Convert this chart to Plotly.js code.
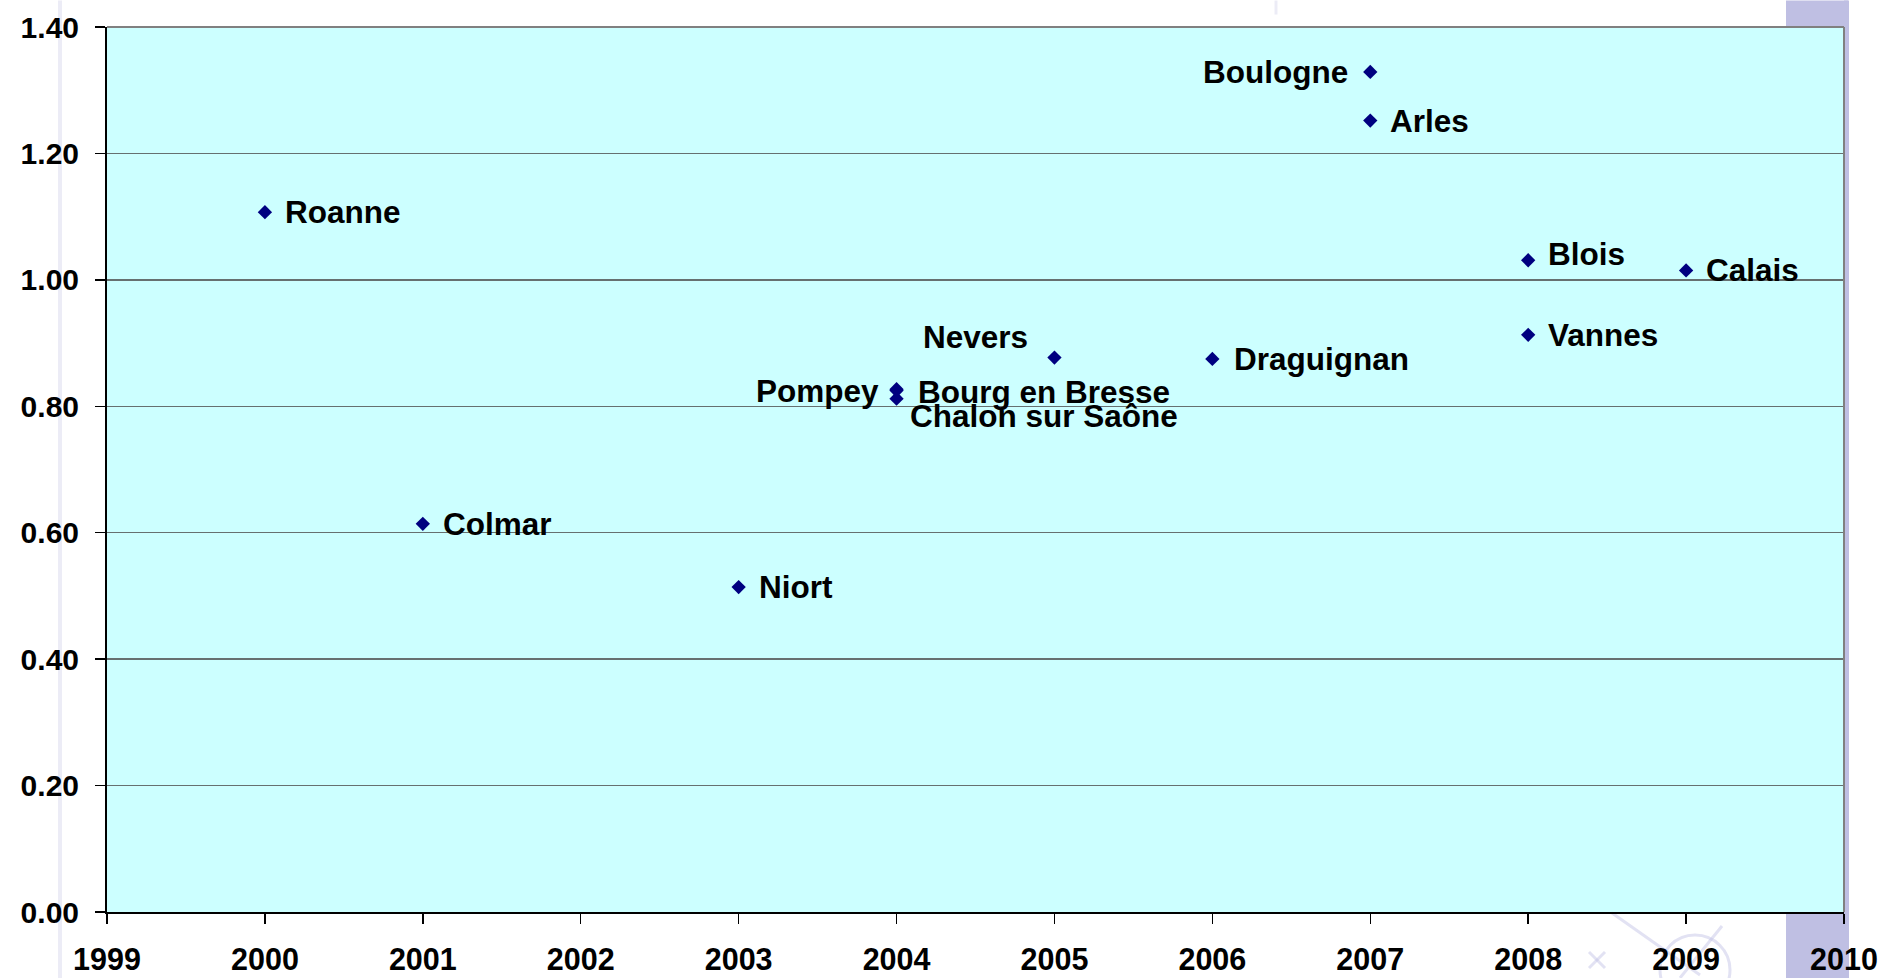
<!DOCTYPE html>
<html>
<head>
<meta charset="utf-8">
<script src="https://cdn.plot.ly/plotly-3.0.1.min.js"></script>
<style>html,body{margin:0;padding:0;background:#fff;}#chart{width:1887px;height:978px;}</style>
</head>
<body>
<div id="chart"></div>
<script>
// ---- data ----
var cities = ['Roanne','Colmar','Niort','Pompey','Bourg en Bresse','Chalon sur Saône','Nevers','Draguignan','Boulogne','Arles','Blois','Vannes','Calais'];
var years  = [2000, 2001, 2003, 2004, 2004, 2004, 2005, 2006, 2007, 2007, 2008, 2008, 2009];
var values = [1.107, 0.614, 0.514, 0.827, 0.825, 0.812, 0.877, 0.875, 1.329, 1.252, 1.031, 0.913, 1.015];
var xTickVals = [1999,2000,2001,2002,2003,2004,2005,2006,2007,2008,2009,2010];
var yTickVals = [0,0.2,0.4,0.6,0.8,1.0,1.2,1.4];

// ---- label placement (style only) ----
var place = {
  'Roanne':{side:'right'}, 'Colmar':{side:'right'}, 'Niort':{side:'right'},
  'Pompey':{side:'left', dx:-16, dy:-2},
  'Bourg en Bresse':{side:'right', dx:19, dy:-2},
  'Chalon sur Saône':{side:'right', dx:11, dy:-17},
  'Nevers':{side:'left', dx:-24, dy:21},
  'Draguignan':{side:'right', dx:20},
  'Boulogne':{side:'left', dx:-20},
  'Arles':{side:'right'}, 'Blois':{side:'right', dy:6},
  'Vannes':{side:'right'}, 'Calais':{side:'right'}
};

var FONT = 'Arial, "Liberation Sans", Helvetica, sans-serif';

var annotations = cities.map(function(c, i){
  var p = place[c] || {side:'right'};
  var right = p.side === 'right';
  return {
    x: years[i], y: values[i], xref:'x', yref:'y',
    text: c, showarrow:false,
    xanchor: right ? 'left' : 'right', yanchor:'middle',
    xshift: (p.dx !== undefined ? p.dx : (right ? 18 : -20)),
    yshift: (p.dy || 0),
    font:{family:FONT, size:31.5, color:'#000', weight:'bold'}
  };
});

// pixel -> paper helpers for background decorations
var L=107, R=1844, T=26.5, B=912;
function px(x){ return (x-L)/(R-L); }
function py(y){ return (B-y)/(B-T); }
var lav = '#bfbfe3';
var faint = 'rgba(190,190,228,0.45)';
var shapes = [
  // lavender band on the right (outside plot area pieces)
  {type:'rect', xref:'paper', yref:'paper', x0:px(1786), x1:px(1848), y0:py(0), y1:py(T), fillcolor:lav, line:{width:0}, layer:'below'},
  {type:'rect', xref:'paper', yref:'paper', x0:px(1786), x1:px(1848), y0:py(B), y1:py(978), fillcolor:lav, line:{width:0}, layer:'below'},
  {type:'rect', xref:'paper', yref:'paper', x0:px(1844), x1:px(1849), y0:py(0), y1:py(978), fillcolor:lav, line:{width:0}, layer:'below'},
  // faint vertical line on the left
  {type:'line', xref:'paper', yref:'paper', x0:px(60), x1:px(60), y0:py(0), y1:py(978), line:{color:'#ececf6', width:4}, layer:'below'},
  // faint top mark
  {type:'line', xref:'paper', yref:'paper', x0:px(1276), x1:px(1276), y0:py(0), y1:py(14), line:{color:'#ececf6', width:3}, layer:'below'},
  // faint compass decoration at bottom right
  {type:'circle', xref:'paper', yref:'paper', x0:px(1660), x1:px(1730), y0:py(935), y1:py(1005), line:{color:faint, width:3}, layer:'below'},
  {type:'line', xref:'paper', yref:'paper', x0:px(1612), x1:px(1700), y0:py(913), y1:py(975), line:{color:faint, width:3}, layer:'below'},
  {type:'line', xref:'paper', yref:'paper', x0:px(1722), x1:px(1680), y0:py(926), y1:py(978), line:{color:faint, width:3}, layer:'below'},
  {type:'line', xref:'paper', yref:'paper', x0:px(1589), x1:px(1605), y0:py(952), y1:py(968), line:{color:faint, width:3}, layer:'below'},
  {type:'line', xref:'paper', yref:'paper', x0:px(1605), x1:px(1589), y0:py(952), y1:py(968), line:{color:faint, width:3}, layer:'below'},
  // plot border (top and right) in gray
  {type:'line', xref:'paper', yref:'paper', x0:0, x1:1, y0:1, y1:1, line:{color:'#808080', width:2}, layer:'above'},
  {type:'line', xref:'paper', yref:'paper', x0:1, x1:1, y0:0, y1:1, line:{color:'#808080', width:2}, layer:'above'}
];

var trace = {
  type:'scatter', mode:'markers',
  x: years, y: values, text: cities,
  marker:{symbol:'diamond', size:11, color:'#000080', line:{width:0}},
  hoverinfo:'text+x+y', showlegend:false
};

var layout = {
  width:1887, height:978,
  margin:{l:L, r:1887-R, t:T, b:978-B, pad:0},
  paper_bgcolor:'#ffffff', plot_bgcolor:'#ccffff',
  showlegend:false,
  xaxis:{
    range:[1999,2010], tickmode:'array', tickvals:xTickVals, ticktext:xTickVals.map(String),
    showgrid:false, zeroline:false, showline:true, linecolor:'#000', linewidth:2,
    ticks:'outside', ticklen:10, tickwidth:1.5, tickcolor:'#000',
    ticklabelstandoff:9,
    tickfont:{family:FONT, size:30.5, color:'#000', weight:'bold'},
    fixedrange:true, automargin:false
  },
  yaxis:{
    range:[0,1.4], tickmode:'array', tickvals:yTickVals, ticktext:yTickVals.map(function(v){return v.toFixed(2);}),
    showgrid:true, gridcolor:'#667070', gridwidth:1.3, zeroline:false,
    showline:true, linecolor:'#000', linewidth:2,
    ticks:'outside', ticklen:10, tickwidth:1.5, tickcolor:'#000',
    ticklabelstandoff:10,
    tickfont:{family:FONT, size:30, color:'#000', weight:'bold'},
    fixedrange:true, automargin:false
  },
  shapes: shapes,
  annotations: annotations
};

Plotly.newPlot('chart', [trace], layout, {displayModeBar:false, staticPlot:true});
</script>
</body>
</html>
